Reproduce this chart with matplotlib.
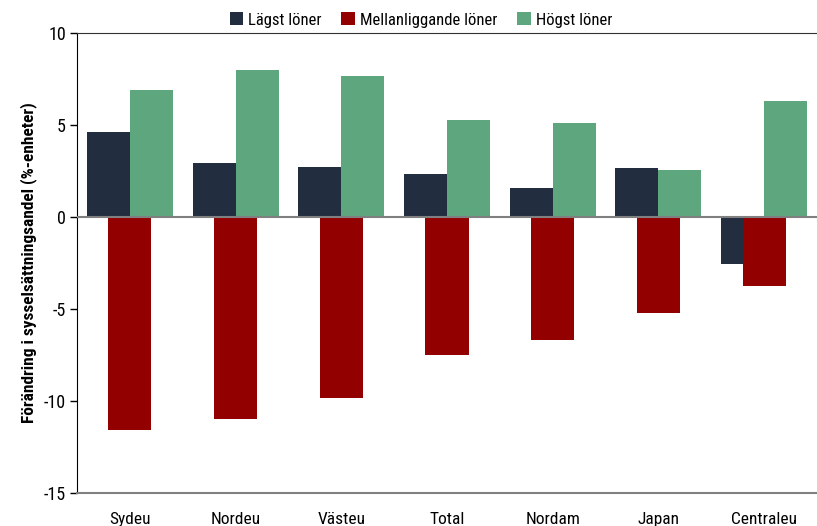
import numpy as np
import matplotlib.pyplot as plt
from matplotlib import font_manager

regioner = ['Sydeu', 'Nordeu', 'Västeu', 'Total', 'Nordam', 'Japan', 'Centraleu']
lagst = [4.62, 2.93, 2.72, 2.34, 1.58, 2.66, -2.55]
mellan = [-11.58, -10.98, -9.84, -7.50, -6.68, -5.22, -3.75]
hogst = [6.90, 7.99, 7.66, 5.27, 5.10, 2.55, 6.30]
serier = ['Lägst löner', 'Mellanliggande löner', 'Högst löner']
yticks = [10, 5, 0, -5, -10, -15]

namn = {f.name for f in font_manager.fontManager.ttflist}
fam = [f for f in ['Roboto Condensed', 'Liberation Sans Narrow', 'DejaVu Sans'] if f in namn]
plt.rcParams['font.family'] = fam

fig = plt.figure(figsize=(8.17, 5.26), dpi=100)
ax = fig.add_axes([77 / 817, 0.0627, 1 - 77 / 817, 0.875])

x = np.arange(len(regioner))
b = 0.407
ax.bar(x - b / 2, lagst, b, color='#222d40', label=serier[0], zorder=2)
ax.bar(x, mellan, b, color='#930000', label=serier[1], zorder=3)
ax.bar(x + b / 2, hogst, b, color='#5ea67d', label=serier[2], zorder=4)
ax.axhline(0, color='#808080', lw=1.5, zorder=5)

ax.set_xlim(-0.5, len(regioner) - 0.5)
ax.set_ylim(-15, 10)
ax.set_yticks(yticks)
ax.set_yticklabels([str(t) for t in yticks], fontsize=13)
ax.set_xticks(x)
ax.set_xticklabels(regioner, fontsize=12.5)
ax.tick_params(axis='x', length=0, pad=14)
ax.tick_params(axis='y', direction='out', length=5, width=1, pad=3)

ax.spines['right'].set_visible(False)
ax.spines['top'].set_color('#333333')
ax.spines['left'].set_color('black')
ax.spines['bottom'].set_color('#808080')
ax.spines['bottom'].set_linewidth(1.5)

ax.set_ylabel('Förändring i sysselsättningsandel (%-enheter)', fontsize=12.5,
              fontweight='bold', labelpad=5)

fig.legend(loc='upper center', bbox_to_anchor=(0.515, 1.005), ncol=3, frameon=False,
           fontsize=12, handlelength=0.8, handleheight=0.8, handletextpad=0.3,
           columnspacing=1.2)

fig.savefig('out.png', dpi=100)
